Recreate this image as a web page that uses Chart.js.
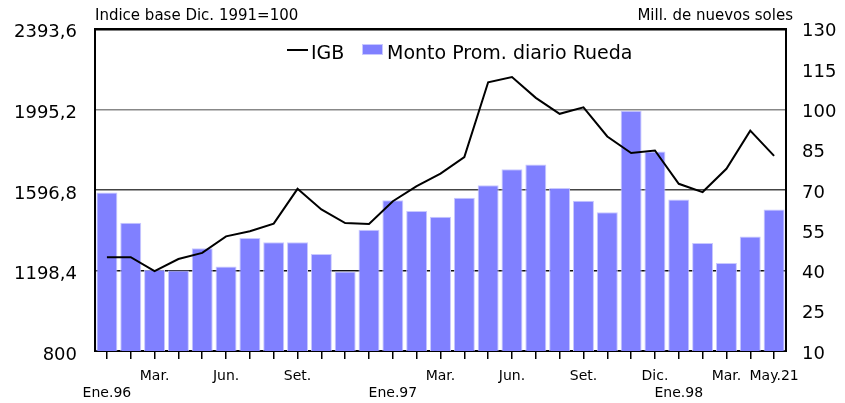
<!DOCTYPE html>
<html>
<head>
<meta charset="utf-8">
<script src="https://cdn.jsdelivr.net/npm/chart.js@4/dist/chart.umd.min.js"></script>
<style>
  body { margin: 0; background: #fff; }
  #wrap { width: 845px; height: 403px; }
</style>
</head>
<body>
<div id="wrap"><canvas id="chart" width="845" height="403"></canvas></div>
<script>
// Months Ene.96 .. May.98 (last point: May 21)
const months = ['Ene96','Feb96','Mar96','Abr96','May96','Jun96','Jul96','Ago96','Set96','Oct96','Nov96','Dic96',
  'Ene97','Feb97','Mar97','Abr97','May97','Jun97','Jul97','Ago97','Set97','Oct97','Nov97','Dic97',
  'Ene98','Feb98','Mar98','Abr98','May98'];

// tick labels under the x axis (second line for the years)
const xTickLabels = [['', 'Ene.96'], '', 'Mar.', '', '', 'Jun.', '', '', 'Set.', '', '', '',
  ['', 'Ene.97'], '', 'Mar.', '', '', 'Jun.', '', '', 'Set.', '', '', 'Dic.',
  ['', 'Ene.98'], '', 'Mar.', '', 'May.21'];

// IGB index (left axis)
const igb = [1264, 1264, 1195, 1255, 1285, 1367, 1392, 1430, 1602, 1500, 1433, 1428,
  1541, 1615, 1677, 1759, 2129, 2155, 2052, 1973, 2005, 1861, 1779, 1792,
  1627, 1586, 1701, 1890, 1765];

// Monto promedio diario Rueda, mill. de nuevos soles (right axis)
const monto = [69, 57.8, 40.3, 40, 48.3, 41.5, 52.1, 50.5, 50.5, 46.1, 39.6, 55.2,
  66.1, 62.1, 60, 67.1, 71.7, 77.7, 79.5, 70.7, 66, 61.7, 99.5, 84.3,
  66.4, 50.2, 42.8, 52.6, 62.7];

const leftTicks = [800, 1198.4, 1596.8, 1995.2, 2393.6];
const leftTickLabels = ['800', '1198,4', '1596,8', '1995,2', '2393,6'];
const rightTicks = [10, 25, 40, 55, 70, 85, 100, 115, 130];

const FONT = '"DejaVu Sans", Arial, sans-serif';
const barColor = '#8080ff';
const gridColors = ['#000', '#111', '#444', '#888', '#000'];

// titles and legend drawn over the chart
const extras = {
  id: 'extras',
  afterDraw(chart) {
    const ctx = chart.ctx;
    const area = chart.chartArea;
    ctx.save();
    ctx.fillStyle = '#000';
    ctx.font = '15px ' + FONT;
    ctx.textBaseline = 'alphabetic';
    ctx.textAlign = 'left';
    ctx.fillText('Indice base Dic. 1991=100', area.left, 20);
    ctx.textAlign = 'right';
    ctx.fillText('Mill. de nuevos soles', 793, 20);

    // legend
    ctx.strokeStyle = '#000';
    ctx.lineWidth = 2;
    ctx.beginPath();
    ctx.moveTo(287, 50);
    ctx.lineTo(308, 50);
    ctx.stroke();
    ctx.font = '19px ' + FONT;
    ctx.textAlign = 'left';
    ctx.fillText('IGB', 311, 59);
    ctx.fillStyle = barColor;
    ctx.fillRect(362, 44, 21, 11);
    ctx.strokeStyle = '#c8c8ff';
    ctx.lineWidth = 1;
    ctx.strokeRect(362.5, 44.5, 20, 10);
    ctx.fillStyle = '#000';
    ctx.fillText('Monto Prom. diario Rueda', 387, 59);
    ctx.restore();
  }
};

const ctx = document.getElementById('chart').getContext('2d');
new Chart(ctx, {
  type: 'bar',
  data: {
    labels: months,
    datasets: [
      {
        type: 'line',
        label: 'IGB',
        data: igb,
        yAxisID: 'yLeft',
        borderColor: '#000',
        borderWidth: 2,
        pointRadius: 0,
        tension: 0,
        order: 0
      },
      {
        type: 'bar',
        label: 'Monto Prom. diario Rueda',
        data: monto,
        yAxisID: 'yRight',
        backgroundColor: barColor,
        borderColor: '#c8c8ff',
        borderWidth: 1,
        barPercentage: 0.88,
        categoryPercentage: 1,
        order: 1
      }
    ]
  },
  options: {
    responsive: false,
    devicePixelRatio: 1,
    animation: false,
    layout: { padding: { top: 28, left: 0, right: 0, bottom: 0 } },
    plugins: {
      legend: { display: false },
      tooltip: { enabled: false }
    },
    scales: {
      x: {
        offset: true,
        grid: {
          offset: false,
          drawOnChartArea: false,
          drawTicks: true,
          tickLength: 8,
          color: '#000',
          lineWidth: 1.5
        },
        border: { display: true, color: '#000', width: 2 },
        ticks: {
          autoSkip: false,
          maxRotation: 0,
          minRotation: 0,
          padding: 9,
          color: '#000',
          font: { family: FONT, size: 14 },
          callback: (v, i) => xTickLabels[i]
        },
        afterFit: s => { s.height = 52; }
      },
      yLeft: {
        position: 'left',
        min: 800,
        max: 2393.6,
        afterBuildTicks: s => { s.ticks = leftTicks.map(v => ({ value: v })); },
        grid: {
          drawTicks: false,
          color: c => gridColors[c.index] || '#888',
          lineWidth: c => c.index === 4 ? 2.5 : 1.5
        },
        border: { display: true, color: '#000', width: 2 },
        ticks: {
          padding: 18,
          labelOffset: 4,
          color: '#000',
          font: { family: FONT, size: 18 },
          callback: (v, i) => leftTickLabels[i]
        },
        afterFit: s => { s.width = 95; }
      },
      yRight: {
        position: 'right',
        min: 10,
        max: 130,
        afterBuildTicks: s => { s.ticks = rightTicks.map(v => ({ value: v })); },
        grid: { drawOnChartArea: false, drawTicks: false },
        border: { display: true, color: '#000', width: 2 },
        ticks: {
          padding: 16,
          labelOffset: 3,
          color: '#000',
          font: { family: FONT, size: 18 }
        },
        afterFit: s => { s.width = 59; }
      }
    }
  },
  plugins: [extras]
});
</script>
</body>
</html>
